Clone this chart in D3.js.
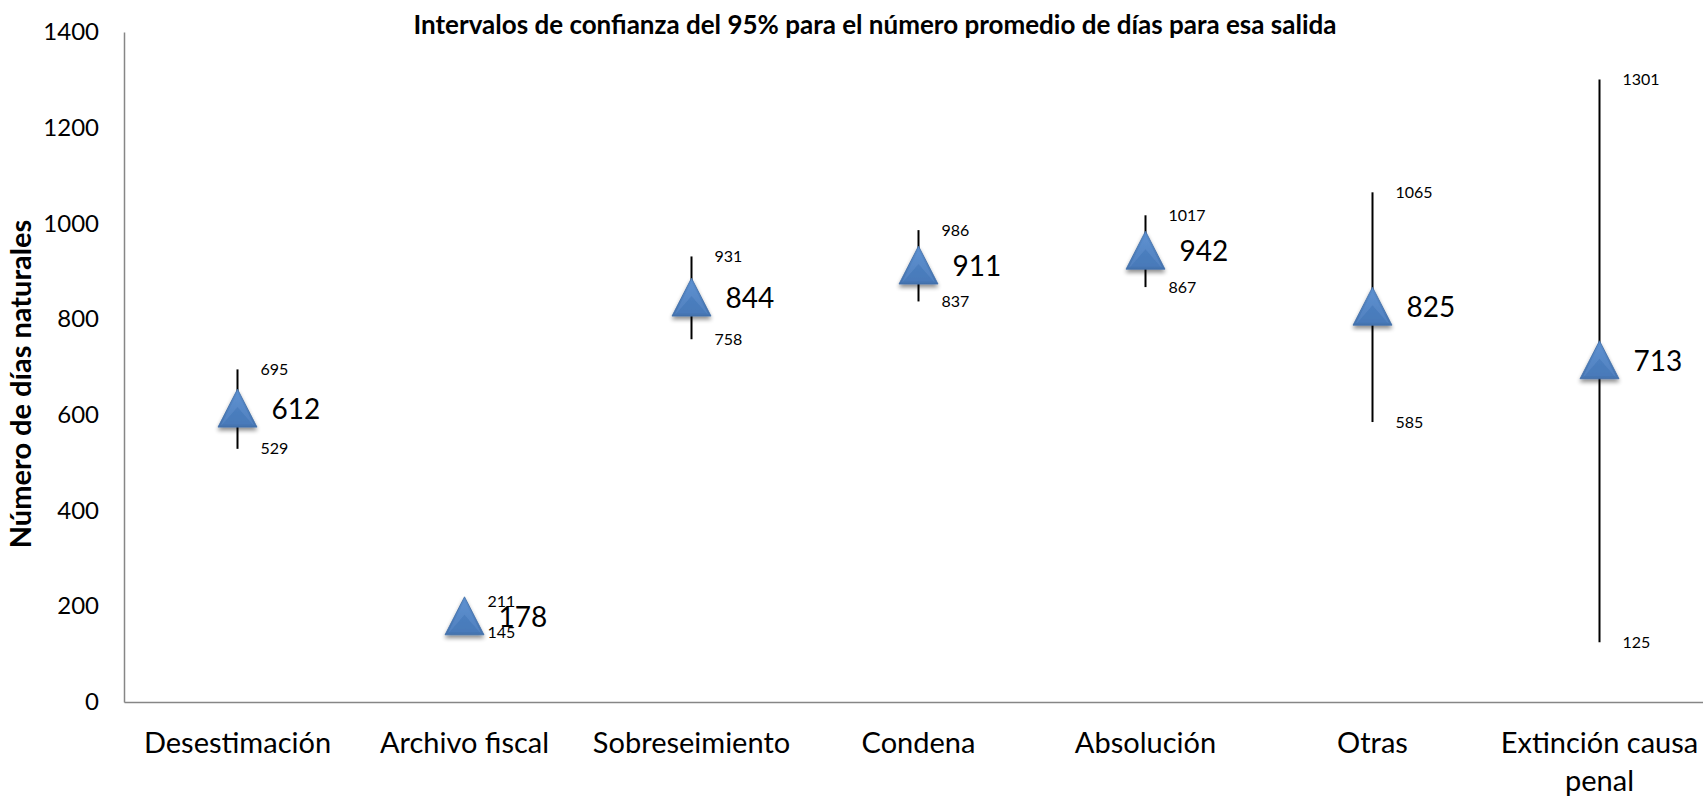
<!DOCTYPE html>
<html>
<head>
  <meta charset="utf-8">
  <style>
    body { margin: 0; background: #fff; }
    svg { display: block; font-family: Lato, "Open Sans", sans-serif; }
  </style>
</head>
<body>
  <svg width="1703" height="797"></svg>
<script src="https://cdn.jsdelivr.net/npm/d3@7"></script>
<script>

var categories = ["Desestimación", "Archivo fiscal", "Sobreseimiento", "Condena", "Absolución", "Otras", "Extinción causa penal"];
var means = [612, 178, 844, 911, 942, 825, 713];
var lower = [529, 145, 758, 837, 867, 585, 125];
var upper = [695, 211, 931, 986, 1017, 1065, 1301];
var yTicks = [0, 200, 400, 600, 800, 1000, 1200, 1400];

var svg = d3.select("svg"),
    margin = {top: 32, left: 124, bottom: 95},
    height = +svg.attr("height") - margin.top - margin.bottom,
    width = 227 * categories.length;

var x = d3.scaleBand().domain(categories).range([margin.left, margin.left + width]);
var y = d3.scaleLinear().domain([0, 1400]).range([margin.top + height, margin.top]);

// shadow + gradient for the triangles
var defs = svg.append("defs");
var shadow = defs.append("filter").attr("id", "shadow")
    .attr("x", "-30%").attr("y", "-30%").attr("width", "160%").attr("height", "170%");
shadow.append("feGaussianBlur").attr("in", "SourceAlpha").attr("stdDeviation", 2.2);
shadow.append("feOffset").attr("dy", 3).attr("result", "off");
shadow.append("feComponentTransfer").append("feFuncA").attr("type", "linear").attr("slope", 0.45);
var merge = shadow.append("feMerge");
merge.append("feMergeNode");
merge.append("feMergeNode").attr("in", "SourceGraphic");

var grad = defs.append("linearGradient").attr("id", "tri").attr("x1", 0).attr("y1", 0).attr("x2", 0).attr("y2", 1);
grad.append("stop").attr("offset", "0%").attr("stop-color", "#5b8fcf");
grad.append("stop").attr("offset", "100%").attr("stop-color", "#4473b0");

// axes
var yAxis = svg.append("g")
    .attr("transform", "translate(" + margin.left + ",0)")
    .call(d3.axisLeft(y).tickValues(yTicks).tickFormat(d3.format("d")).tickSize(0).tickPadding(25));
yAxis.select(".domain").attr("stroke", "#868686").attr("stroke-width", 1.5);
yAxis.selectAll("text").attr("font-size", 24).attr("fill", "#000").attr("font-family", "Lato");

var xAxis = svg.append("g")
    .attr("transform", "translate(0," + (margin.top + height) + ")")
    .call(d3.axisBottom(x).tickSize(0).tickFormat(""));
xAxis.select(".domain").attr("stroke", "#868686").attr("stroke-width", 1.5);

// category labels (wrapped like the original)
var catLines = {"Extinción causa penal": ["Extinción causa", "penal"]};
svg.append("g").selectAll("text")
    .data(categories)
  .enter().append("text")
    .attr("x", function(d) { return x(d) + x.bandwidth() / 2; })
    .attr("y", margin.top + height + 41)
    .attr("text-anchor", "middle")
    .attr("font-size", 29)
    .each(function(d) {
      var lines = catLines[d] || [d];
      var t = d3.select(this);
      lines.forEach(function(l, i) {
        t.append("tspan").attr("x", t.attr("x")).attr("dy", i === 0 ? "0.35em" : 38).text(l);
      });
    });

// whiskers
var pts = svg.append("g").selectAll("g")
    .data(categories)
  .enter().append("g")
    .attr("transform", function(d) { return "translate(" + (x(d) + x.bandwidth() / 2) + ",0)"; });

pts.append("line")
    .attr("y1", function(d, i) { return y(upper[i]); })
    .attr("y2", function(d, i) { return y(lower[i]); })
    .attr("stroke", "#000").attr("stroke-width", 2);

// triangle markers
var tri = pts.append("g")
    .attr("transform", function(d, i) { return "translate(0," + y(means[i]) + ")"; })
    .attr("filter", "url(#shadow)");
tri.append("path")
    .attr("d", "M0,-20L19.5,18L-19.5,18Z")
    .attr("fill", "url(#tri)")
    .attr("stroke", "#3f6ca6").attr("stroke-width", 0.8);
tri.append("path")
    .attr("d", "M0,-2L15,15.5L-15,15.5Z")
    .attr("fill", "#4a7dbe").attr("opacity", 0.6);
tri.append("path")
    .attr("d", "M0,-16L-16.5,16L-15,15.5L0,-2L15,15.5L16.5,16Z")
    .attr("fill", "#6799d6").attr("opacity", 0.35);

// labels
pts.append("text")
    .attr("x", 23)
    .attr("y", function(d, i) { return y(upper[i]); })
    .attr("dy", "0.35em")
    .attr("font-size", 16)
    .text(function(d, i) { return upper[i]; });

pts.append("text")
    .attr("x", 23)
    .attr("y", function(d, i) { return y(lower[i]); })
    .attr("dy", "0.35em")
    .attr("font-size", 16)
    .text(function(d, i) { return lower[i]; });

pts.append("text")
    .attr("x", 34)
    .attr("y", function(d, i) { return y(means[i]); })
    .attr("dy", "0.35em")
    .attr("font-size", 28)
    .text(function(d, i) { return means[i]; });

// titles
svg.append("text")
    .attr("x", 875).attr("y", 25)
    .attr("dy", "0.35em")
    .attr("text-anchor", "middle")
    .attr("font-weight", "bold")
    .attr("font-size", 26)
    .text("Intervalos de confianza del 95% para el número promedio de días para esa salida");

svg.append("text")
    .attr("transform", "translate(21,384) rotate(-90)")
    .attr("dy", "0.35em")
    .attr("text-anchor", "middle")
    .attr("font-weight", "bold")
    .attr("font-size", 29)
    .text("Número de días naturales");

</script>
</body>
</html>
